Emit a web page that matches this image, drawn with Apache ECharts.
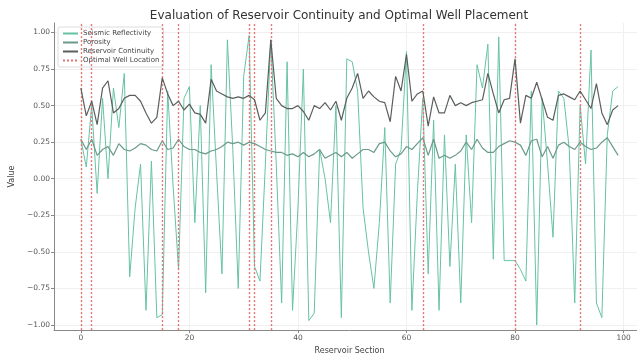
<!DOCTYPE html>
<html>
  <head>
    <meta charset="UTF-8" />
    <title>Reservoir Continuity</title>
    <script src="https://cdn.jsdelivr.net/npm/echarts@6/dist/echarts.min.js"></script>
    <style>
      body { margin: 0; padding: 0; background: #fff; overflow: hidden; }
      #main { width: 645px; height: 360px; }
    </style>
  </head>
  <body>
    <div id="main"></div>
    <script type="text/javascript">
      var sections = [];
      for (var i = 0; i < 100; i++) sections.push(i);

      var seismic = [
        0.27, 0.08, 0.5, -0.1, 0.55, 0.0, 0.62, 0.35, 0.72, -0.67,
        -0.2, 0.1, -0.9, 0.12, -0.95, -0.93, 0.6, -0.05, -0.62, 0.55,
        0.63, -0.3, 0.5, -0.78, 0.78, 0.05, -0.65, 0.95, 0.2, -0.75,
        0.7, 0.98, -0.6, -0.7, 0.1, 0.95, 0.1, -0.85, 0.8, -0.9,
        -0.2, 0.75, -0.97, -0.92, 0.2, 0.0, -0.3, 0.5, -0.95, 0.82,
        0.8, 0.6, -0.2, -0.5, -0.75, -0.3, 0.35, -0.85, 0.1, 0.2,
        0.87, -0.9, -0.1, 0.55, -0.65, 0.4, -0.9, 0.3, -0.6, 0.1,
        -0.85, 0.3, -0.3, 0.78, 0.62, 0.92, -0.55, 0.97, -0.56, -0.56,
        -0.56, -0.62, -0.7, 0.6, -1.0, 0.55, 0.1, -0.4, 0.6, 0.55,
        0.2, -0.85, 0.5, 0.1, 0.88, -0.85, -0.95, 0.3, 0.6, 0.63
      ];
      var porosity = [
        0.27, 0.2, 0.27, 0.16, 0.2, 0.22, 0.16, 0.24, 0.2, 0.19,
        0.21, 0.24, 0.23, 0.2, 0.19, 0.26, 0.2, 0.21, 0.27, 0.22,
        0.2, 0.2, 0.18, 0.17, 0.19, 0.2, 0.22, 0.25, 0.24, 0.25,
        0.23, 0.25, 0.24, 0.22, 0.2, 0.19, 0.18, 0.18, 0.16, 0.17,
        0.15, 0.18, 0.15, 0.17, 0.2, 0.14, 0.16, 0.18, 0.15, 0.18,
        0.14, 0.17, 0.2, 0.2, 0.18, 0.24, 0.25, 0.19, 0.15, 0.17,
        0.22, 0.2, 0.24, 0.28, 0.16, 0.27, 0.14, 0.16, 0.14, 0.16,
        0.19, 0.25, 0.2, 0.27, 0.21, 0.18, 0.18, 0.22, 0.24, 0.26,
        0.25, 0.23, 0.16, 0.26, 0.27, 0.15, 0.22, 0.14, 0.23, 0.25,
        0.22, 0.2, 0.25, 0.22, 0.2, 0.21, 0.25, 0.28, 0.22, 0.16
      ];
      var continuity = [
        0.62, 0.43, 0.53, 0.37, 0.62, 0.67, 0.45, 0.48, 0.55, 0.57,
        0.57, 0.53, 0.45, 0.38, 0.42, 0.69, 0.58, 0.5, 0.53, 0.47,
        0.51, 0.45, 0.44, 0.38, 0.68, 0.6, 0.58, 0.56, 0.55, 0.56,
        0.55, 0.57, 0.54, 0.4, 0.45, 0.95, 0.55, 0.5, 0.48, 0.48,
        0.5, 0.46, 0.4, 0.5, 0.48, 0.52, 0.47, 0.53, 0.4, 0.55,
        0.62, 0.72, 0.55, 0.6, 0.56, 0.53, 0.52, 0.39, 0.7, 0.6,
        0.85, 0.53, 0.58, 0.6, 0.36, 0.56, 0.45, 0.45, 0.57, 0.5,
        0.52, 0.5, 0.52, 0.53, 0.54, 0.72, 0.58, 0.45, 0.54, 0.55,
        0.82, 0.38, 0.57, 0.55, 0.66, 0.54, 0.42, 0.4, 0.57, 0.58,
        0.56, 0.54, 0.6, 0.54, 0.48, 0.65, 0.45, 0.37, 0.47, 0.5
      ];
      var wellLocations = [0, 2, 15, 18, 31, 32, 35, 63, 80, 92];
      var xTicks = [0, 20, 40, 60, 80, 100];
      var yTicks = [-1, -0.75, -0.5, -0.25, 0, 0.25, 0.5, 0.75, 1];

      function pairs(values) {
        return values.map(function (v, i) { return [sections[i], v]; });
      }
      function minus(s) { return s.replace("-", "\u2212"); }

      var font = "DejaVu Sans";
      var chart = echarts.init(document.getElementById("main"));
      var option = {
        animation: false,
        textStyle: { fontFamily: font },
        title: {
          text: "Evaluation of Reservoir Continuity and Optimal Well Placement",
          left: 334,
          top: 5,
          textAlign: "center",
          textStyle: { fontSize: 12, fontWeight: "normal", color: "#333", fontFamily: font }
        },
        legend: {
          orient: "vertical",
          left: 58,
          top: 27,
          itemWidth: 15,
          itemHeight: 8,
          itemGap: 2,
          padding: [3, 4, 3, 4],
          borderColor: "#ddd",
          borderWidth: 1,
          borderRadius: 2,
          backgroundColor: "rgba(255,255,255,0.8)",
          itemStyle: { opacity: 0 },
          textStyle: { fontSize: 7, color: "#444", fontFamily: font },
          data: ["Seismic Reflectivity", "Porosity", "Reservoir Continuity", "Optimal Well Location"]
        },
        grid: { left: 54, right: 0, top: 23, bottom: 21 },
        xAxis: {
          type: "value",
          min: -4.95,
          max: 103.95,
          name: "Reservoir Section",
          nameLocation: "middle",
          nameGap: 11,
          nameTextStyle: { fontSize: 8, color: "#444" },
          axisLine: { onZero: false, lineStyle: { color: "#888", width: 1 } },
          axisTick: { show: true, length: 3, lineStyle: { color: "#888" }, customValues: xTicks },
          axisLabel: { fontSize: 7.5, color: "#555", margin: 4, customValues: xTicks, formatter: function (v) { return minus(String(v)); } },
          splitLine: { show: true, lineStyle: { color: "#f0f0f0", width: 1 } }
        },
        yAxis: {
          type: "value",
          min: -1.035,
          max: 1.065,
          name: "Value",
          nameLocation: "middle",
          nameGap: 31,
          nameTextStyle: { fontSize: 8, color: "#444" },
          axisLine: { show: true, onZero: false, lineStyle: { color: "#888", width: 1 } },
          axisTick: { show: true, length: 3, lineStyle: { color: "#888" }, customValues: yTicks },
          axisLabel: { fontSize: 7.5, color: "#555", margin: 4, customValues: yTicks, formatter: function (v) { return minus(v.toFixed(2)); } },
          splitLine: { show: true, lineStyle: { color: "#f0f0f0", width: 1 } }
        },
        series: [
          {
            name: "Seismic Reflectivity",
            type: "line",
            data: pairs(seismic),
            symbol: "none",
            color: "#66c2a5",
            lineStyle: { width: 1, color: "#66c2a5" },
            z: 3
          },
          {
            name: "Porosity",
            type: "line",
            data: pairs(porosity),
            symbol: "none",
            color: "#6a9a8a",
            lineStyle: { width: 1.2, color: "#6a9a8a" },
            z: 4
          },
          {
            name: "Reservoir Continuity",
            type: "line",
            data: pairs(continuity),
            symbol: "none",
            color: "#5a5f5c",
            lineStyle: { width: 1.2, color: "#5a5f5c" },
            z: 5
          },
          {
            name: "Optimal Well Location",
            type: "line",
            data: [],
            symbol: "none",
            color: "#e57373",
            lineStyle: { width: 1.2, type: [2, 2], color: "#e57373" },
            markLine: {
              silent: true,
              symbol: "none",
              label: { show: false },
              lineStyle: { color: "#e57373", type: [2, 2], width: 1.4 },
              data: wellLocations.map(function (x) { return { xAxis: x }; })
            },
            z: 6
          }
        ]
      };
      chart.setOption(option);
    </script>
  </body>
</html>
